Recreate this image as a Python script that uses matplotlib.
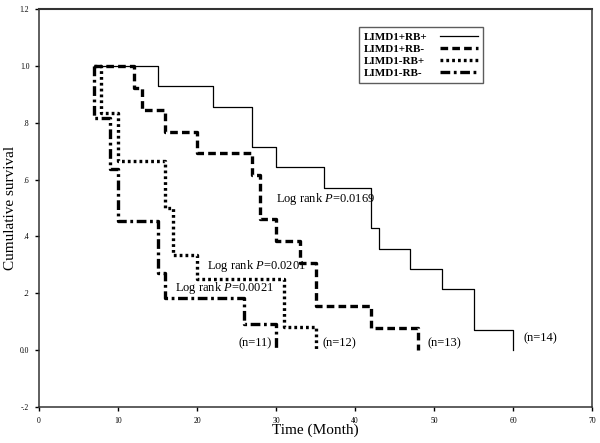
import matplotlib.pyplot as plt

plt.rcParams['font.family'] = ['Liberation Serif', 'DejaVu Serif']
plt.rcParams['mathtext.fontset'] = 'custom'
plt.rcParams['mathtext.rm'] = 'Liberation Serif'
plt.rcParams['mathtext.it'] = 'Liberation Serif:italic'
plt.rcParams['lines.scale_dashes'] = False

# Kaplan-Meier steps (time, cumulative survival)
t_pp = [7, 15, 22, 27, 30, 36, 42, 43, 47, 51, 55, 60]
s_pp = [1.0, 0.929, 0.857, 0.714, 0.643, 0.571, 0.429, 0.357, 0.286, 0.214, 0.071, 0.0]

t_pm = [7, 12, 13, 16, 20, 27, 28, 30, 33, 35, 42, 48]
s_pm = [1.0, 0.923, 0.846, 0.769, 0.692, 0.615, 0.462, 0.385, 0.308, 0.154, 0.077, 0.0]

t_mp = [7, 7.8, 10, 16, 17, 20, 31, 35]
s_mp = [1.0, 0.833, 0.667, 0.5, 0.333, 0.25, 0.083, 0.0]

t_mm = [7, 7, 9, 10, 15, 16, 26, 30]
s_mm = [1.0, 0.818, 0.636, 0.455, 0.273, 0.182, 0.091, 0.0]

x_ticks = [0, 10, 20, 30, 40, 50, 60, 70]
y_ticks = [-0.2, 0.0, 0.2, 0.4, 0.6, 0.8, 1.0, 1.2]
y_tick_labels = ['-.2', '0.0', '.2', '.4', '.6', '.8', '1.0', '1.2']

fig = plt.figure(figsize=(6, 4.43), dpi=100)
ax = fig.add_axes([0.065, 0.0813, 0.922, 0.8984])

ax.step(t_pp, s_pp, where='post', color='black', lw=0.9, label='LIMD1+RB+')
ax.step(t_pm, s_pm, where='post', color='black', lw=2.4, dashes=(5.5, 3.0),
        label='LIMD1+RB-')
ax.step(t_mp, s_mp, where='post', color='black', lw=2.4, dashes=(2.0, 2.2),
        label='LIMD1-RB+')
ax.step(t_mm, s_mm, where='post', color='black', lw=2.4,
        dashes=(7.0, 2.6, 2.0, 2.6), label='LIMD1-RB-')

# annotations
ax.text(30.0, 0.53, 'Log rank $P$=0.0169', fontsize=9, va='center')
ax.text(21.2, 0.295, 'Log rank $P$=0.0201', fontsize=9, va='center')
ax.text(17.2, 0.22, 'Log rank $P$=0.0021', fontsize=9, va='center')
ax.text(25.3, 0.025, '(n=11)', fontsize=9, va='center')
ax.text(35.9, 0.025, '(n=12)', fontsize=9, va='center')
ax.text(49.1, 0.025, '(n=13)', fontsize=9, va='center')
ax.text(61.3, 0.04, '(n=14)', fontsize=9, va='center')

ax.set_xlim(0, 70)
ax.set_ylim(-0.2, 1.2)
ax.set_xticks(x_ticks)
ax.set_yticks(y_ticks)
ax.set_yticklabels(y_tick_labels)
ax.tick_params(labelsize=5.5, length=3, width=1, direction='out', pad=4)

for sp in ax.spines.values():
    sp.set_linewidth(1.1)
    sp.set_color('#333333')
ax.spines['top'].set_linewidth(1.5)

ax.set_xlabel('Time (Month)', fontsize=11, labelpad=-1)
ax.set_ylabel('Cumulative survival', fontsize=11, labelpad=2)

leg = ax.legend(loc='upper left', bbox_to_anchor=(0.579, 0.955), fancybox=False,
                markerfirst=False, handlelength=3.4, handletextpad=1.1,
                borderpad=0.45, labelspacing=0.2, borderaxespad=0,
                prop={'weight': 'bold', 'size': 8})
leg.get_frame().set_edgecolor('#333333')
leg.get_frame().set_linewidth(1.0)

# left-align the labels and keep the line samples lined up on the right
fig.canvas.draw()
r = fig.canvas.get_renderer()
col = leg._legend_handle_box.get_children()[0]
col.align = 'left'
widths = [t.get_window_extent(r).width for t in leg.get_texts()]
for box, w in zip(col.get_children(), widths):
    box.sep += (max(widths) - w) * 72 / fig.dpi

plt.savefig('out.png', dpi=100)
